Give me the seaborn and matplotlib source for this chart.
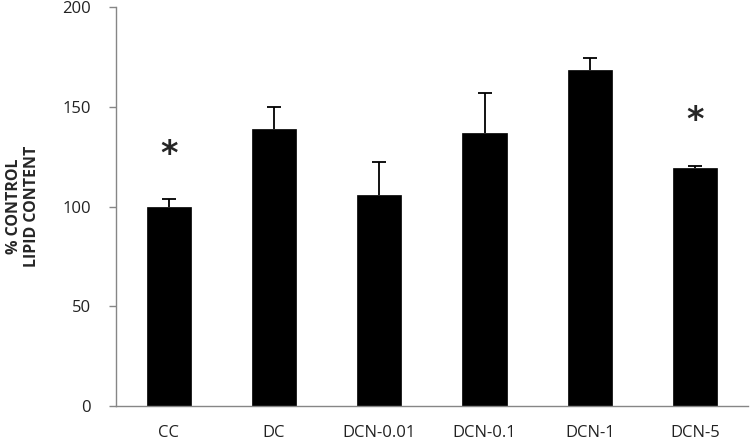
import matplotlib
matplotlib.use("Agg")
import matplotlib.pyplot as plt
import pandas as pd
import seaborn as sns
from matplotlib.ticker import FixedLocator, NullFormatter

groups = ["CC", "DC", "DCN-0.01", "DCN-0.1", "DCN-1", "DCN-5"]
lipid = [100, 139, 106, 137, 168.5, 119.3]
err_up = [4, 11, 16.5, 20, 5.8, 0.9]
star_groups = ["CC", "DCN-5"]
star_y = [126, 143]

sns.set_style("white")
plt.rcParams["font.family"] = ["Open Sans", "DejaVu Sans"]

AXIS_GREY = "#868686"

df = pd.DataFrame({"group": groups, "lipid": lipid, "err": err_up})

fig = plt.figure(figsize=(7.5, 4.44), dpi=100)
ax = fig.add_axes([0.1547, 0.0856, 0.8423, 0.8986])

sns.barplot(data=df, x="group", y="lipid", color="black", width=0.42,
            edgecolor="black", linewidth=0.5, errorbar=None, saturation=1, ax=ax)
# upper error bars only
_, caps, _ = ax.errorbar(range(len(groups)), df["lipid"],
                         yerr=[[0] * len(groups), df["err"]],
                         fmt="none", ecolor="black", elinewidth=1.3,
                         capsize=5, capthick=1.3)
caps[0].set_visible(False)

for g, y in zip(star_groups, star_y):
    ax.text(groups.index(g), y, "*", ha="center", va="center", fontsize=24,
            fontweight="bold", family="DejaVu Sans")

ax.set_xlim(-0.5, len(groups) - 0.5)
ax.set_ylim(0, 200)
ax.set_yticks([0, 50, 100, 150, 200])
ax.set_xlabel("")
ax.set_ylabel("% CONTROL\nLIPID CONTENT", fontsize=11.5, fontweight="bold",
              labelpad=16, linespacing=1.2)

ax.xaxis.set_minor_locator(FixedLocator([i - 0.5 for i in range(len(groups) + 1)]))
ax.xaxis.set_minor_formatter(NullFormatter())
ax.tick_params(axis="x", which="major", length=0, labelsize=12, pad=14,
               labelcolor="#222222")
ax.tick_params(axis="x", which="minor", length=5, width=1, color=AXIS_GREY, direction="out")
ax.tick_params(axis="y", which="major", length=5, width=1, color=AXIS_GREY,
               direction="out", labelsize=12, pad=13, labelcolor="#222222")
ax.tick_params(axis="both", bottom=True, left=True)

for side in ["top", "right"]:
    ax.spines[side].set_visible(False)
for side in ["left", "bottom"]:
    ax.spines[side].set_color(AXIS_GREY)
    ax.spines[side].set_linewidth(1)

fig.savefig("out.png", dpi=100)
